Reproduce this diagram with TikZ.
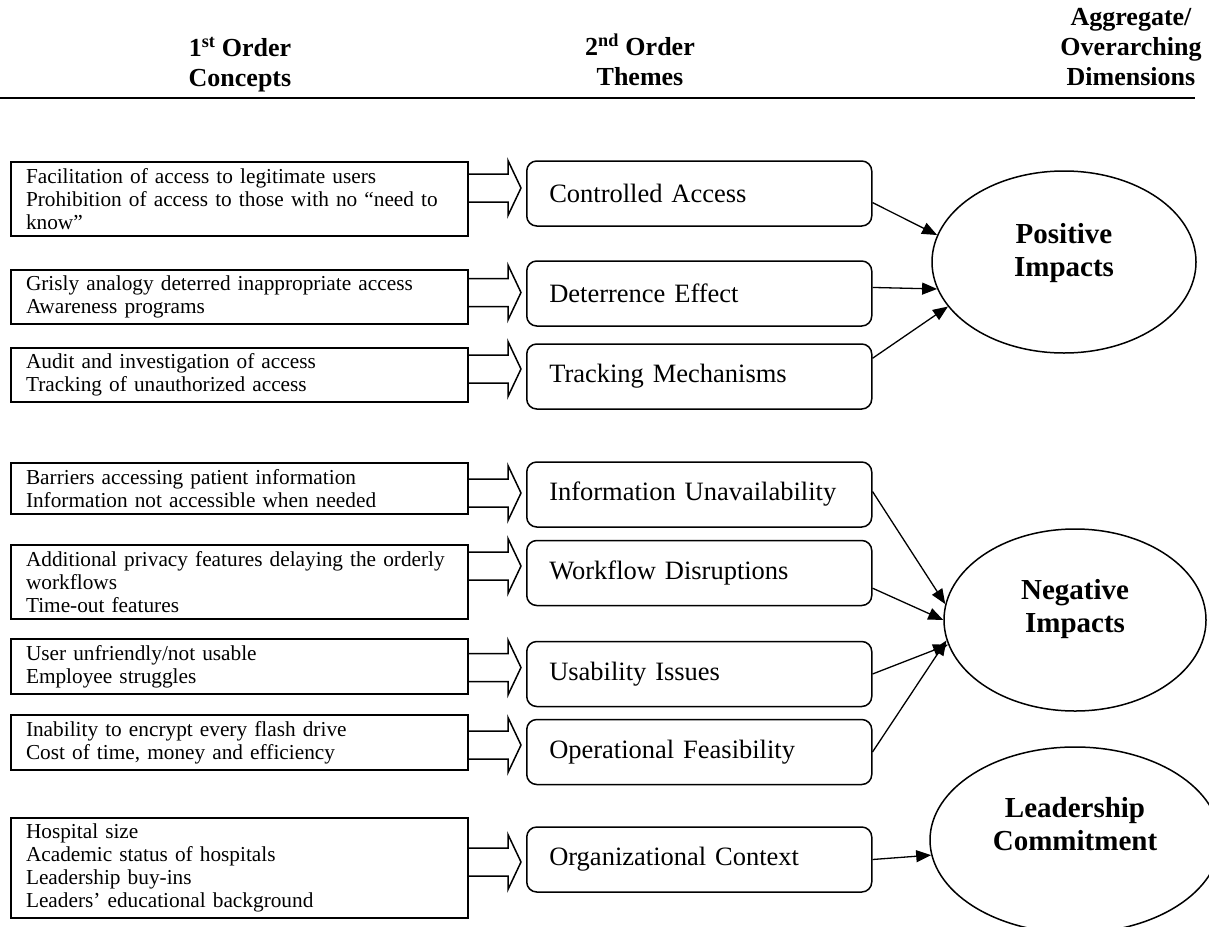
\documentclass[tikz,border=0pt]{standalone}
\usepackage{fontspec}
\setmainfont{Liberation Serif}
\usepackage{tikz}
\usetikzlibrary{shapes.geometric, arrows.meta}
\tikzstyle{heading} = [anchor=north, align=center, inner sep=0pt, font=\fontsize{26}{30}\selectfont\bfseries]
\tikzstyle{concept} = [rectangle, anchor=west, draw=black, line width=2pt, text width=427pt, inner xsep=15pt, inner ysep=6pt, font=\fontsize{21.3}{23}\selectfont]
\tikzstyle{theme} = [rectangle, rounded corners=10pt, anchor=west, draw=black, line width=1.5pt, minimum height=65pt, text width=300pt, inner xsep=22.5pt, align=left, font=\fontsize{26.5}{28}\selectfont]
\tikzstyle{dimension} = [ellipse, draw=black, line width=1.5pt]
\tikzstyle{dimtext} = [align=center, font=\fontsize{29}{33}\selectfont\bfseries]
\tikzstyle{arrow} = [line width=1.3pt, -{Triangle[length=15pt, width=12pt]}]
\tikzstyle{blockarrow} = [line width=1.5pt, line join=miter]
% hollow block arrow from a concept box to its theme box, #3 moves its axis
\newcommand{\blockarrow}[3]{%
	\draw [blockarrow] (#1.east |- #2.west) ++(0,{#3-14}) -- ++(39,0) -- ++(0,-13.5) -- ++(13,27.5) -- ++(-13,27.5) -- ++(0,-13.5) -- ++(-39,0);
}

\begin{document}
\begin{tikzpicture}[x=1pt, y=-1pt]
		\useasboundingbox (0,0) rectangle (1209,926);
		\clip (0,0) rectangle (1209,926);
		\node (hdrA) [heading] at (240,37) {1\textsuperscript{st} Order\\Concepts};
		\node (hdrB) [heading] at (640,34) {2\textsuperscript{nd} Order\\Themes};
		\node (hdrC) [heading] at (1131,8) {Aggregate/\\Overarching\\Dimensions};
		\draw [line width=2pt] (0,98) -- (1195,98);

		\node (access) [concept] at (10,199) {Facilitation of access to legitimate users\\Prohibition of access to those with no “need to know”};
		\node (deter) [concept] at (10,297) {Grisly analogy deterred inappropriate access\\Awareness programs};
		\node (audit) [concept] at (10,375) {Audit and investigation of access\\Tracking of unauthorized access};
		\node (barrier) [concept] at (10,488.5) {Barriers accessing patient information\\Information not accessible when needed};
		\node (delay) [concept] at (10,582) {Additional privacy features delaying the orderly workflows\\Time-out features};
		\node (unfriendly) [concept] at (10,666.5) {User unfriendly/not usable\\Employee struggles};
		\node (encrypt) [concept] at (10,742.5) {Inability to encrypt every flash drive\\Cost of time, money and efficiency};
		\node (hospital) [concept] at (10,868) {Hospital size\\Academic status of hospitals\\Leadership buy-ins\\Leaders’ educational background};

		\node (control) [theme] at (526,193.5) {Controlled Access};
		\node (deterrence) [theme] at (526,293.5) {Deterrence Effect};
		\node (tracking) [theme] at (526,376.5) {Tracking Mechanisms};
		\node (unavail) [theme] at (526,494.5) {Information Unavailability};
		\node (workflow) [theme] at (526,573) {Workflow Disruptions};
		\node (usability) [theme] at (526,674) {Usability Issues};
		\node (feasibility) [theme] at (526,752) {Operational Feasibility};
		\node (context) [theme] at (526,859.5) {Organizational Context};

		\node (positive) [dimension, minimum width=264pt, minimum height=182pt, label={[dimtext, yshift=9pt]center:{Positive\\Impacts}}] at (1064,262) {};
		\node (negative) [dimension, minimum width=262pt, minimum height=182pt, label={[dimtext, yshift=11pt]center:{Negative\\Impacts}}] at (1075,620) {};
		\node (leadership) [dimension, minimum width=290pt, minimum height=186pt, label={[dimtext, yshift=16pt]center:{Leadership\\Commitment}}] at (1075,840) {};

		\blockarrow{access}{control}{-5.5}
		\blockarrow{deter}{deterrence}{-1}
		\blockarrow{audit}{tracking}{-7.5}
		\blockarrow{barrier}{unavail}{-1.5}
		\blockarrow{delay}{workflow}{-7}
		\blockarrow{unfriendly}{usability}{-6.5}
		\blockarrow{encrypt}{feasibility}{-7}
		\blockarrow{hospital}{context}{2.5}

		\draw [arrow] (control.-3) -- (positive.168);
		\draw [arrow] (deterrence.2) -- (positive.192);
		\draw [arrow] (tracking.6) -- (positive.201);
		\draw [arrow] (unavail.1) -- (negative.173);
		\draw [arrow] (workflow.-5) -- (negative.180);
		\draw [arrow] (usability.east) -- (negative.191);
		\draw [arrow] (feasibility.east) -- (negative.189);
		\draw [arrow] (context.east) -- (leadership.186);
	\end{tikzpicture}
\end{document}
